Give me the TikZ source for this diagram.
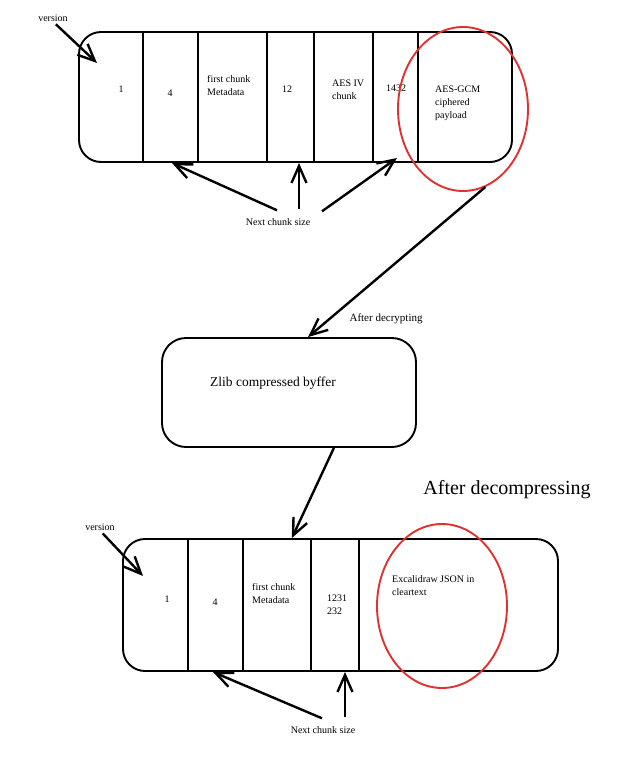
\documentclass[tikz,border=0pt]{standalone}
\usepackage{fontspec}
\setmainfont{Liberation Serif}
\usetikzlibrary{positioning,shapes.geometric,arrows.meta,calc}

\definecolor{ringred}{RGB}{224,49,49}

\begin{document}
\begin{tikzpicture}[
    x=1pt, y=-1pt,
    frame/.style={rectangle, draw, line width=1.9pt, rounded corners=22pt, inner sep=0pt},
    cell/.style={font=\fontsize{10}{13}\selectfont, align=left, inner sep=0pt},
    note/.style={font=\fontsize{10}{12}\selectfont, inner sep=0pt},
    divider/.style={line width=2.4pt},
    ring/.style={ellipse, draw=ringred, line width=1.9pt, inner sep=0pt, minimum width=130pt, minimum height=164pt},
    arrow/.style={-{Straight Barb[length=17pt, width=15pt]}, line width=2.4pt}
]
\useasboundingbox (0,0) rectangle (630,769);

% Encrypted file layout
\node[frame, minimum width=433pt, minimum height=130pt] (frame1) at (295.5,97) {};
\foreach \x in {143,198,267,314,373,418}
    \draw[divider] (\x,32) -- (\x,162);

\node[cell] (ver1) at (121,89) {1};
\node[cell] (len1) at (170,93) {4};
\node[cell, anchor=west] (meta1) at (207,86) {first chunk\\Metadata};
\node[cell] (ivlen1) at (287,89) {12};
\node[cell, anchor=west] (iv1) at (332,90) {AES IV\\chunk};
\node[cell] (paylen1) at (396,88) {1432};
\node[cell, anchor=west] (payload1) at (435,103) {AES-GCM\\ciphered\\payload};

\node[ring] (ring1) at (463,109) {};

% Version marker
\node[note] (version1) at (53,18) {version};
\coordinate (verTip1) at (97,63);
\draw[arrow, shorten <=4pt] (version1.south) -- (verTip1);

% Chunk size pointers
\node[note] (next1) at (278,222) {Next chunk size};
\coordinate (sizeTip1) at (172,163);
\coordinate (sizeTip2) at (299,163);
\coordinate (sizeTip3) at (397,158);
\draw[arrow] ($(next1.north)+(-1,-8)$) -- (sizeTip1);
\draw[arrow] ($(next1.north)+(21,-9)$) -- (sizeTip2);
\draw[arrow] ($(next1.north)+(44,-7)$) -- (sizeTip3);

% Decrypted buffer
\node[frame, rounded corners=24pt, minimum width=254pt, minimum height=109pt] (zlib) at (289,392.5) {};
\node[font=\fontsize{13.5}{16}\selectfont, inner sep=0pt] (zlibText) at (273,383) {Zlib compressed byffer};

\draw[arrow] (ring1.-74) -- node[note, pos=0.88, right=19pt] (decrypt) {\fontsize{11}{13}\selectfont After decrypting} (zlib.71);

% Decompressed file layout
\node[font=\fontsize{20}{24}\selectfont, inner sep=0pt] (decompress) at (507,490) {After decompressing};
\node[frame, minimum width=435pt, minimum height=132pt] (frame2) at (340.5,605) {};
\draw[arrow] (zlib.-51) -- (frame2.126);
\foreach \x in {188,243,311,359}
    \draw[divider] (\x,539) -- (\x,671);

\node[cell] (ver2) at (167,599) {1};
\node[cell] (len2) at (215,602) {4};
\node[cell, anchor=west] (meta2) at (252,594) {first chunk\\Metadata};
\node[cell, anchor=west] (size2) at (327,605) {1231\\232};
\node[cell, anchor=west] (json2) at (392,586) {Excalidraw JSON in\\cleartext};

\node[ring] (ring2) at (442,606) {};

\node[note] (version2) at (100,527) {version};
\coordinate (verTip2) at (143,576);
\draw[arrow, shorten <=4pt] (version2.south) -- (verTip2);

\node[note] (next2) at (323,730) {Next chunk size};
\coordinate (sizeTip4) at (213,672);
\coordinate (sizeTip5) at (345,672);
\draw[arrow] ($(next2.north)+(-1,-8)$) -- (sizeTip4);
\draw[arrow] ($(next2.north)+(22,-9)$) -- (sizeTip5);

\end{tikzpicture}
\end{document}
